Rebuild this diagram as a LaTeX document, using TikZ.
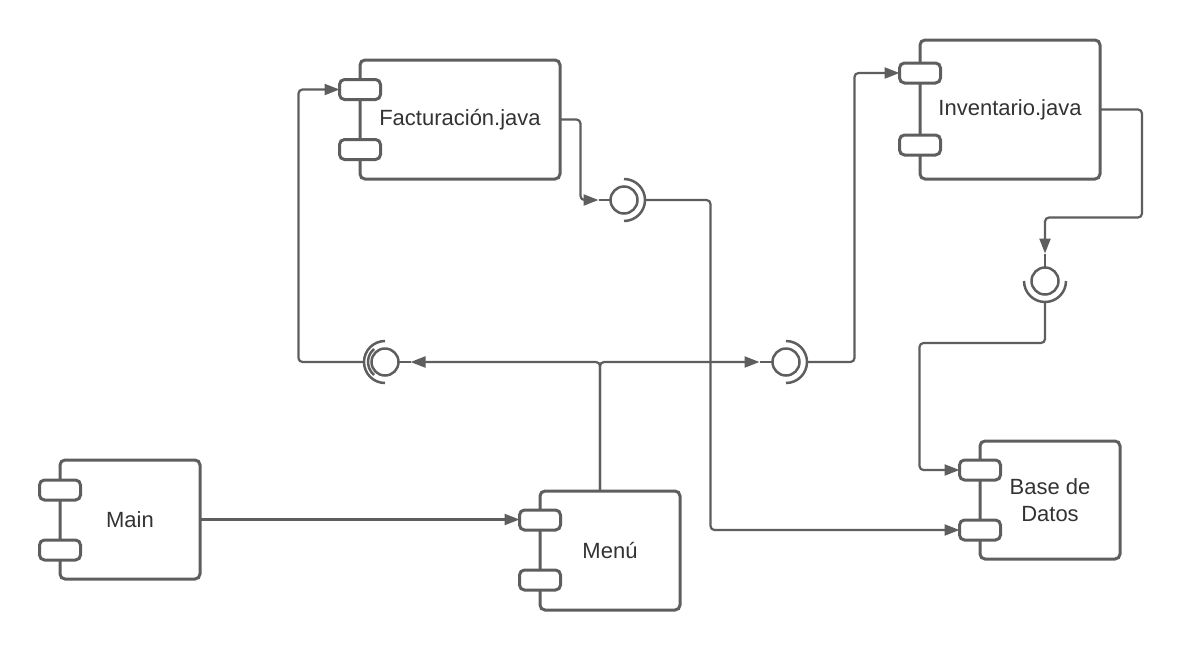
\documentclass[tikz,border=0pt]{standalone}
\usepackage{fontspec}
\setmainfont{Liberation Sans}
\usetikzlibrary{arrows.meta,calc}
\definecolor{ln}{HTML}{5E5E5E}
\definecolor{tx}{HTML}{333333}
\begin{document}
\begin{tikzpicture}[x=1pt,y=-1pt,
  comp/.style={draw=ln,line width=3pt,rounded corners=5pt,fill=white,inner sep=0pt,outer sep=0pt,text=tx,font=\fontsize{22}{27}\selectfont,align=center},
  port/.style={draw=ln,line width=3pt,rounded corners=5pt,fill=white,minimum width=41pt,minimum height=20pt,inner sep=0pt,outer sep=0pt},
  ball/.style={draw=ln,line width=2.5pt,circle,minimum size=27pt,inner sep=0pt,outer sep=0pt},
  conn/.style={draw=ln,line width=2.2pt,rounded corners=4pt},
  arr/.style={conn,-{Triangle[length=15pt,width=11pt]}},
  sock/.style={draw=ln,line width=2.5pt}
]
\fill[white] (0,0) rectangle (1182,651);
\useasboundingbox (0,0) rectangle (1182,651);

% components
\node[comp,minimum width=200pt,minimum height=119pt] (fact) at (460,119.5) {Facturación.java};
\node[comp,minimum width=180pt,minimum height=139pt] (inv) at (1010,109.5) {Inventario.java};
\node[comp,minimum width=140pt,minimum height=119pt] (main) at (130,519.5) {Main};
\node[comp,minimum width=140pt,minimum height=119pt] (menu) at (610,550.5) {Menú};
\node[comp,minimum width=140pt,minimum height=118pt] (bd) at (1050,500) {Base de\\Datos};

% ports
\node[port] (fact-p1) at (360,89.5) {};
\node[port] (fact-p2) at (360,149.5) {};
\node[port] (inv-p1) at (920,73) {};
\node[port] (inv-p2) at (920,145) {};
\node[port] (main-p1) at (60,490) {};
\node[port] (main-p2) at (60,550) {};
\node[port] (menu-p1) at (540,520) {};
\node[port] (menu-p2) at (540,580) {};
\node[port] (bd-p1) at (980,470) {};
\node[port] (bd-p2) at (980,530) {};

% interfaces
\node[ball] (i1) at (624,200) {};
\node[ball] (i2) at (385,362) {};
\node[ball] (i3) at (786,362) {};
\node[ball] (i4) at (1045,281) {};
\draw[sock] ($(i1)+(90:21)$) arc (90:-90:21);
\draw[sock] ($(i2)+(90:21)$) arc (90:270:21);
\draw[sock] ($(i2)+(130:17)$) arc (130:230:17);
\draw[sock] ($(i3)+(90:21)$) arc (90:-90:21);
\draw[sock] ($(i4)+(0:21)$) arc (0:180:21);
\coordinate (i1o) at ($(i1)+(21,0)$);
\coordinate (i2o) at ($(i2)+(-21,0)$);
\coordinate (i3o) at ($(i3)+(21,0)$);
\coordinate (i4o) at ($(i4)+(0,21)$);
\coordinate (mtop) at ($(menu.north)+(-10,0)$);

% connectors
\draw[arr] (main.east) -- (main.east -| menu-p1.west);
\draw[arr] (mtop) |- ($(i2.east)+(12,0)$);
\draw[conn] (i2.east) -- ++(12,0);
\draw[arr] (mtop) |- ($(i3.west)+(-13,0)$);
\draw[conn] (i3.west) -- ++(-13,0);
\draw[arr] (i2o) -| ($(fact-p1.west)+(-41,0)$) -- (fact-p1.west);
\draw[arr] (i3o) -| ($(inv-p1.west)+(-45,0)$) -- (inv-p1.west);
\draw[arr] (fact.east) -| ($(i1.west)+(-30,0)$) -- ($(i1.west)+(-12,0)$);
\draw[conn] (i1.west) -- ++(-12,0);
\draw[arr] (i1o) -| ($(bd-p2.west)+(-249,0)$) -- (bd-p2.west);
\draw[arr] (inv.east) -| ($(i4.north)+(97,-50)$) -| ($(i4.north)+(0,-14)$);
\draw[conn] (i4.north) -- ++(0,-14);
\draw[arr] (i4o) |- ($(bd-p1.west)+(-40,-127)$) |- (bd-p1.west);
\end{tikzpicture}
\end{document}
